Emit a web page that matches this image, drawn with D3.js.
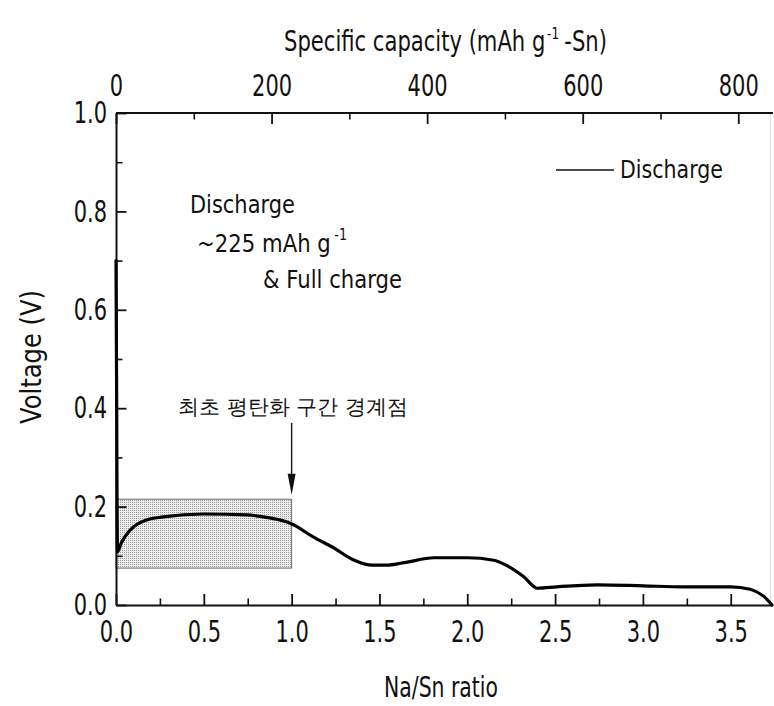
<!DOCTYPE html>
<html>
<head>
<meta charset="utf-8">
<script src="https://cdn.jsdelivr.net/npm/d3@7"></script>
<style>
  html, body { margin: 0; padding: 0; background: #fff; }
  svg { display: block; }
  text { font-family: "DejaVu Sans", sans-serif; fill: #111; }
</style>
</head>
<body>
<svg id="chart" width="774" height="706"></svg>
<script>
// Na/Sn ratio vs. voltage for the first discharge
const ratio = [0, 0.004, 0.006, 0.009, 0.03, 0.08, 0.175, 0.27, 0.5, 0.745, 0.875, 0.97, 1.01, 1.12, 1.24, 1.35, 1.46, 1.54, 1.64, 1.81, 2.0, 2.15, 2.22, 2.32, 2.40, 2.51, 2.74, 3.0, 3.23, 3.5, 3.61, 3.69, 3.735];
const voltage = [0.70, 0.40, 0.20, 0.108, 0.126, 0.152, 0.173, 0.179, 0.185, 0.183, 0.177, 0.169, 0.163, 0.139, 0.116, 0.092, 0.081, 0.081, 0.086, 0.096, 0.096, 0.091, 0.081, 0.058, 0.034, 0.037, 0.041, 0.039, 0.037, 0.037, 0.032, 0.017, 0.0];

// axis ticks
const ratioTicks = [0, 0.5, 1.0, 1.5, 2.0, 2.5, 3.0, 3.5];
const ratioMinor = [0.25, 0.75, 1.25, 1.75, 2.25, 2.75, 3.25];
const capacityTicks = [0, 200, 400, 600, 800];
const capacityMinor = [100, 300, 500, 700];
const voltageTicks = [0, 0.2, 0.4, 0.6, 0.8, 1.0];
const voltageMinor = [0.1, 0.3, 0.5, 0.7, 0.9];

// 1 Na per Sn corresponds to ~225.8 mAh g-1
const mAhPerRatio = 225.8;
const ratioMax = 3.735;

// highlighted first-plateau region
const plateauRatio = [0, 1.0];
const plateauVoltage = [0.075, 0.215];
const arrowVoltage = [0.37, 0.224];

const svg = d3.select("#chart");
const mLeft = 116, mRight = 772, mTop = 113, mBottom = 605;

const x = d3.scaleLinear().domain([0, ratioMax]).range([mLeft, mRight]);
const xTop = d3.scaleLinear().domain([0, ratioMax * mAhPerRatio]).range([mLeft, mRight]);
const y = d3.scaleLinear().domain([0, 1.0]).range([mBottom, mTop]);

// narrow tick labels horizontally, keeping their anchor point in place
function condense(sel, k) {
  sel.each(function () {
    const t = d3.select(this);
    const x0 = +t.attr("x") || 0;
    t.attr("x", x0 / k).attr("transform", `scale(${k},1)`);
  });
}

// stipple fill for the highlighted region
const defs = svg.append("defs");
const pat = defs.append("pattern").attr("id", "stipple")
  .attr("patternUnits", "userSpaceOnUse").attr("width", 2).attr("height", 2);
pat.append("rect").attr("width", 2).attr("height", 2).attr("fill", "#ededed");
pat.append("rect").attr("width", 1).attr("height", 1).attr("fill", "#9a9a9a");

svg.append("rect")
  .attr("x", x(plateauRatio[0])).attr("y", y(plateauVoltage[1]))
  .attr("width", x(plateauRatio[1]) - x(plateauRatio[0]))
  .attr("height", y(plateauVoltage[0]) - y(plateauVoltage[1]))
  .attr("fill", "url(#stipple)").attr("stroke", "#6a6a6a").attr("stroke-width", 1);

// faint right border
svg.append("line").attr("x1", 770.5).attr("x2", 770.5).attr("y1", mTop).attr("y2", mBottom)
  .attr("stroke", "#e2e2e2").attr("stroke-width", 1);

const tickFont = 30;

function styleAxis(g) {
  g.select(".domain").attr("stroke", "#111").attr("stroke-width", 2);
  g.selectAll(".tick line").attr("stroke", "#111").attr("stroke-width", 1.8);
  g.selectAll(".tick text").attr("font-size", tickFont)
    .attr("font-family", '"DejaVu Sans", sans-serif').attr("fill", "#111")
    .call(condense, 0.7);
}
function minorStyle(g) {
  g.select(".domain").remove();
  g.selectAll("line").attr("stroke", "#111").attr("stroke-width", 1.6);
}

// bottom axis
const gB = svg.append("g").attr("transform", `translate(0,${mBottom})`)
  .call(d3.axisBottom(x).tickValues(ratioTicks).tickFormat(d3.format(".1f"))
    .tickSizeInner(-11).tickSizeOuter(0).tickPadding(16));
styleAxis(gB);
svg.append("g").attr("transform", `translate(0,${mBottom})`)
  .call(d3.axisBottom(x).tickValues(ratioMinor).tickFormat("").tickSizeInner(-6.5).tickSizeOuter(0))
  .call(minorStyle);

// top axis
const gT = svg.append("g").attr("transform", `translate(0,${mTop})`)
  .call(d3.axisTop(xTop).tickValues(capacityTicks).tickFormat(d3.format("d"))
    .tickSizeInner(-11).tickSizeOuter(0).tickPadding(17));
styleAxis(gT);
svg.append("g").attr("transform", `translate(0,${mTop})`)
  .call(d3.axisTop(xTop).tickValues(capacityMinor).tickFormat("").tickSizeInner(-6.5).tickSizeOuter(0))
  .call(minorStyle);
gT.select(".domain").attr("d", `M${mLeft},0H773`);

// left axis
const gL = svg.append("g").attr("transform", `translate(${mLeft},0)`)
  .call(d3.axisLeft(y).tickValues(voltageTicks).tickFormat(d3.format(".1f"))
    .tickSizeInner(-10.5).tickSizeOuter(0).tickPadding(9));
styleAxis(gL);
svg.append("g").attr("transform", `translate(${mLeft},0)`)
  .call(d3.axisLeft(y).tickValues(voltageMinor).tickFormat("").tickSizeInner(-6.5).tickSizeOuter(0))
  .call(minorStyle);

// discharge curve
const pts = ratio.map((r, i) => [r, voltage[i]]);
svg.append("path").datum(pts)
  .attr("fill", "none").attr("stroke", "#000").attr("stroke-width", 3.2)
  .attr("stroke-linejoin", "round").attr("stroke-linecap", "round")
  .attr("d", d3.line().x(d => x(d[0])).y(d => y(d[1])).curve(d3.curveMonotoneX));

// arrow to the end of the first plateau
const ax = x(plateauRatio[1]);
svg.append("line").attr("x1", ax).attr("x2", ax)
  .attr("y1", y(arrowVoltage[0])).attr("y2", y(arrowVoltage[1]) - 18)
  .attr("stroke", "#222").attr("stroke-width", 1.5);
svg.append("path")
  .attr("d", `M${ax - 4},${y(arrowVoltage[1]) - 21}L${ax + 4},${y(arrowVoltage[1]) - 21}L${ax},${y(arrowVoltage[1])}Z`)
  .attr("fill", "#111");

// text helper: the run is scaled horizontally to the requested width
function label(str, px, py, size, opts = {}) {
  const t = svg.append("text").attr("x", 0).attr("y", 0).attr("font-size", size)
    .attr("text-anchor", opts.anchor || "start").text(str);
  if (opts.family) t.attr("font-family", opts.family);
  const k = opts.width ? opts.width / t.node().getComputedTextLength() : 1;
  const rot = opts.rotate ? ` rotate(${opts.rotate})` : "";
  t.attr("transform", `translate(${px},${py})${rot} scale(${k},1)`);
  return t;
}

// a line of text made of separate runs (for superscripts), squeezed to a total width
function runs(parts, x0, baseline, totalWidth) {
  const nodes = parts.map(p => svg.append("text").attr("x", 0).attr("y", 0)
    .attr("font-size", p.size).text(p.text));
  const widths = nodes.map(n => n.node().getComputedTextLength());
  const gaps = parts.map(p => p.gap || 0);
  const k = totalWidth / (d3.sum(widths) + d3.sum(gaps));
  let cx = x0;
  nodes.forEach((n, i) => {
    cx += gaps[i] * k;
    n.attr("transform", `translate(${cx},${baseline + (parts[i].dy || 0)}) scale(${k},1)`);
    cx += widths[i] * k;
  });
}

// axis titles
label("Na/Sn ratio", 441, 697, 28, { anchor: "middle", width: 114 });
label("Voltage (V)", 41, 357, 28, { anchor: "middle", width: 134, rotate: -90 });
runs([
  { text: "Specific capacity (mAh g", size: 28 },
  { text: "-1", size: 16, dy: -12, gap: 2 },
  { text: "-Sn)", size: 28, gap: 7 }
], 284, 51, 323);

// legend
svg.append("line").attr("x1", 556).attr("x2", 614).attr("y1", 170).attr("y2", 170)
  .attr("stroke", "#111").attr("stroke-width", 1.6);
label("Discharge", 620, 178, 25, { width: 103 });

// annotations
label("Discharge", 190, 213, 25, { width: 105 });
runs([
  { text: "~225 mAh g", size: 25 },
  { text: "-1", size: 15, dy: -12, gap: 4 }
], 197, 252, 150);
label("& Full charge", 263, 288, 25, { width: 139 });
label("최초 평탄화 구간 경계점", 178, 414, 21, { family: '"Noto Sans CJK KR", sans-serif', width: 230 });
</script>
</body>
</html>
